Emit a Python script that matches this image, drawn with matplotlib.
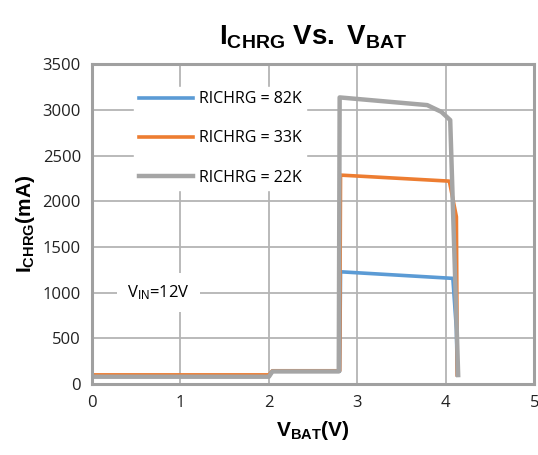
import matplotlib
matplotlib.use("Agg")
import matplotlib.pyplot as plt

plt.rcParams["font.family"] = ["Open Sans", "DejaVu Sans"]
plt.rcParams["mathtext.fontset"] = "custom"
plt.rcParams["mathtext.rm"] = "Liberation Sans"
plt.rcParams["mathtext.bf"] = "Liberation Sans:bold"
plt.rcParams["mathtext.it"] = "Liberation Sans:italic"

# data
v_82k = [0, 2.0, 2.04, 2.80, 2.81, 4.08, 4.12, 4.13]
i_82k = [85, 85, 140, 140, 1228, 1156, 600, 100]
v_33k = [0, 2.0, 2.04, 2.80, 2.81, 4.04, 4.12, 4.13]
i_33k = [100, 100, 145, 145, 2286, 2220, 1830, 100]
v_22k = [0, 2.0, 2.04, 2.79, 2.80, 3.79, 3.95, 4.05, 4.14]
i_22k = [80, 80, 138, 138, 3136, 3052, 2978, 2888, 98]
labels = ["RICHRG = 82K", "RICHRG = 33K", "RICHRG = 22K"]

fig = plt.figure(figsize=(5.38, 4.55), dpi=100)
ax = fig.add_axes([0.171, 0.156, 0.822, 0.703])

ax.plot(v_82k, i_82k, color="#5b9bd5", lw=2.6, label=labels[0])
ax.plot(v_33k, i_33k, color="#ed7d31", lw=2.6, label=labels[1])
ax.plot(v_22k, i_22k, color="#a5a5a5", lw=3.2, label=labels[2])

ax.set_xlim(0, 5)
ax.set_ylim(0, 3500)
ax.set_xticks(range(6))
ax.set_yticks(range(0, 3501, 500))
ax.grid(True, color="#b4b4b4", lw=1.3)
ax.set_axisbelow(True)
for s in ax.spines.values():
    s.set_color("#a0a0a0")
    s.set_linewidth(2.2)
ax.tick_params(length=0, labelsize=12, pad=8, colors="#222222")

leg = ax.legend(loc="upper left", bbox_to_anchor=(0.095, 0.93), frameon=True,
                fontsize=11.5, handlelength=3.4, labelspacing=1.45,
                borderpad=0.3, handletextpad=0.35, borderaxespad=0)
leg.get_frame().set_edgecolor("white")
leg.get_frame().set_facecolor("white")
leg.get_frame().set_alpha(1)

ax.text(0.75, 1000, r"V$_{\mathrm{IN}}$=12V", fontsize=12, ha="center", va="center",
        bbox=dict(facecolor="white", edgecolor="none", boxstyle="square,pad=0.6"))

ax.set_title(r"$\mathbf{I_{CHRG}\ Vs.\ V_{BAT}}$", fontsize=20, pad=14)
ax.set_xlabel(r"$\mathbf{V_{BAT}(V)}$", fontsize=15, labelpad=6)
ax.set_ylabel(r"$\mathbf{I_{CHRG}(mA)}$", fontsize=15, labelpad=4)

fig.savefig("out.png", dpi=100)
